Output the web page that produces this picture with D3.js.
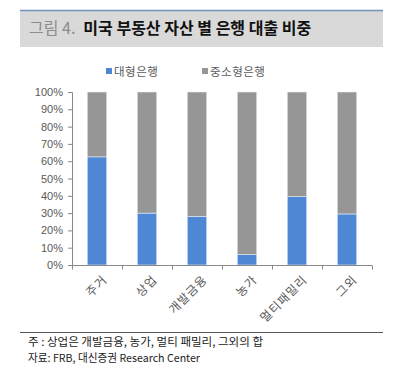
<!DOCTYPE html>
<html>
<head>
<meta charset="utf-8">
<script src="https://cdn.jsdelivr.net/npm/d3@7/dist/d3.min.js"></script>
<style>
  body { margin: 0; background: #fff; }
  svg { display: block; font-family: "Noto Sans CJK KR", "Noto Sans", sans-serif; }
</style>
</head>
<body>
<script>
var categories = ["주거", "상업", "개발금융", "농가", "멀티패밀리", "그외"];
var bigBanks = [62.5, 30, 28, 6, 39.5, 29.5];
var smallBanks = [37.5, 70, 72, 94, 60.5, 70.5];
var seriesNames = ["대형은행", "중소형은행"];
var yTicks = [0, 10, 20, 30, 40, 50, 60, 70, 80, 90, 100];

var w = 398, h = 371;
var colors = ["#4e88d5", "#969696"];

var svg = d3.select("body").append("svg")
    .attr("width", w)
    .attr("height", h);

// 제목
svg.append("rect")
    .attr("x", 20).attr("y", 10)
    .attr("width", 363).attr("height", 37)
    .attr("fill", "#d9d9d9");
svg.append("line")
    .attr("x1", 20).attr("x2", 383)
    .attr("y1", 10.5).attr("y2", 10.5)
    .attr("stroke", "#6f93bb")
    .attr("stroke-width", 1.5);
var title = svg.append("text")
    .attr("x", 29).attr("y", 34)
    .attr("font-size", "16px");
title.append("tspan").attr("fill", "#8c8c8c").text("그림 4.");
title.append("tspan").attr("dx", 8).attr("fill", "#111").attr("font-weight", "bold")
    .text("미국 부동산 자산 별 은행 대출 비중");

// 스케일
var x = d3.scaleBand()
    .domain(categories)
    .range([72, 372])
    .paddingInner(0.61)
    .paddingOuter(0.305);
var y = d3.scaleLinear()
    .domain([0, 100])
    .range([265, 92]);

var stacked = categories.map(function (c, i) {
    return { cat: c, a: bigBanks[i], b: smallBanks[i] };
});
var stack = d3.stack().keys(["a", "b"])(stacked);

svg.append("g").selectAll("g")
    .data(stack)
    .enter().append("g")
    .attr("fill", function (d, i) { return colors[i]; })
    .selectAll("rect")
    .data(function (d) { return d; })
    .enter().append("rect")
    .attr("x", function (d) { return x(d.data.cat); })
    .attr("y", function (d) { return y(d[1]); })
    .attr("width", x.bandwidth())
    .attr("height", function (d) { return y(d[0]) - y(d[1]); })
    .attr("stroke", "#e8eef8")
    .attr("stroke-width", 0.6);

// y 축
var yAxis = d3.axisLeft(y)
    .tickValues(yTicks)
    .tickSize(4)
    .tickPadding(5)
    .tickFormat(function (d) { return d + "%"; });
var gy = svg.append("g")
    .attr("transform", "translate(72,0)")
    .call(yAxis);
gy.select(".domain").attr("stroke", "#888").attr("d", "M-4,92.5H0.5V265.5");
gy.selectAll(".tick line").attr("stroke", "#888");
gy.selectAll("text")
    .attr("fill", "#595959")
    .attr("font-size", "11px")
    .attr("font-family", "Liberation Sans, Arial, sans-serif");

// x 축
var step = x.step();
var gx = svg.append("g")
    .attr("transform", "translate(0,265.5)");
gx.append("line")
    .attr("x1", 72).attr("x2", 372)
    .attr("stroke", "#888");
gx.selectAll(".tk")
    .data(d3.range(categories.length + 1))
    .enter().append("line")
    .attr("x1", function (d) { return 72 + d * step + 0.5; })
    .attr("x2", function (d) { return 72 + d * step + 0.5; })
    .attr("y1", 0).attr("y2", 4)
    .attr("stroke", "#888");
gx.selectAll(".lbl")
    .data(categories)
    .enter().append("text")
    .attr("transform", function (d) {
        return "translate(" + (x(d) + x.bandwidth() / 2 + 5) + ",9) rotate(-45)";
    })
    .attr("text-anchor", "end")
    .attr("font-size", "12px")
    .attr("letter-spacing", "1px")
    .attr("fill", "#595959")
    .attr("dy", "0.7em")
    .text(function (d) { return d; });

// 범례
var legend = svg.append("g").selectAll("g")
    .data(seriesNames)
    .enter().append("g")
    .attr("transform", function (d, i) { return "translate(" + (106 + i * 96) + ",72)"; });
legend.append("rect")
    .attr("y", -4).attr("width", 6).attr("height", 6)
    .attr("fill", function (d, i) { return colors[i]; });
legend.append("text")
    .attr("x", 8).attr("y", 4)
    .attr("font-size", "11.5px")
    .attr("letter-spacing", "0.5px")
    .attr("fill", "#595959")
    .text(function (d) { return d; });

// 주석
svg.append("line")
    .attr("x1", 20).attr("x2", 383)
    .attr("y1", 332.5).attr("y2", 332.5)
    .attr("stroke", "#555");
svg.append("text")
    .attr("x", 28).attr("y", 346)
    .attr("font-size", "11px")
    .attr("fill", "#222")
    .attr("textLength", 235)
    .attr("lengthAdjust", "spacingAndGlyphs")
    .text("주 : 상업은 개발금융, 농가, 멀티 패밀리, 그외의 합");
svg.append("text")
    .attr("x", 28).attr("y", 362)
    .attr("font-size", "11px")
    .attr("fill", "#222")
    .attr("textLength", 172)
    .attr("lengthAdjust", "spacingAndGlyphs")
    .text("자료: FRB, 대신증권 Research Center");
</script>
</body>
</html>
